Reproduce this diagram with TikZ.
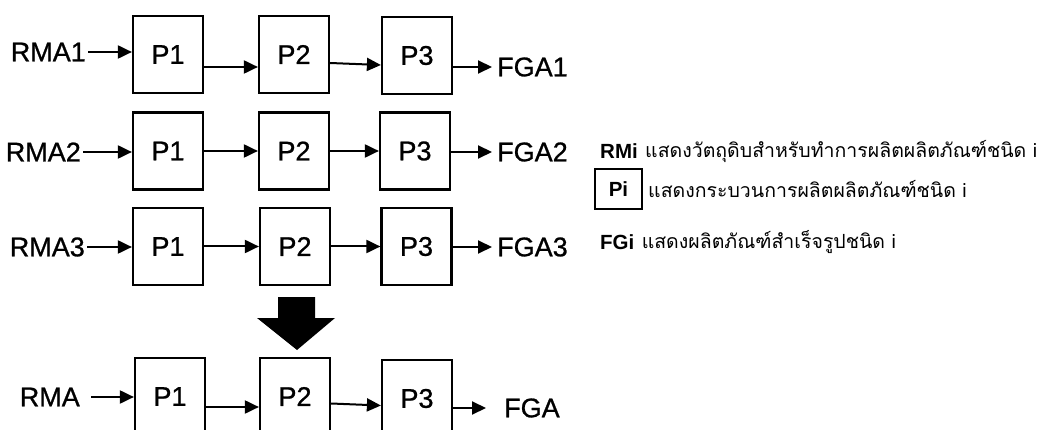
\documentclass[tikz,border=0pt]{standalone}
\usepackage{fontspec}
\setmainfont{Liberation Sans}
\newfontfamily\lblfont{Liberation Sans}[FakeBold=0.9]
\newfontfamily\thaifont[Script=Thai]{Loma}
\usetikzlibrary{arrows.meta}
\begin{document}
\begin{tikzpicture}[x=1pt,y=-1pt,
  pbox/.style={draw,line width=2.2pt,minimum width=70pt,minimum height=77pt,inner sep=0pt,font=\lblfont\fontsize{27}{27}\selectfont},
  lbl/.style={inner sep=0pt,font=\lblfont\fontsize{27}{27}\selectfont},
  arr/.style={line width=2pt,-{Triangle[length=14pt,width=13pt]}},
  leg/.style={inner sep=0pt,anchor=west,font=\bfseries\fontsize{20.5}{20.5}\selectfont},
  thai/.style={inner sep=0pt,anchor=west,font=\thaifont\fontsize{19.5}{19.5}\selectfont}]
\useasboundingbox (0,0) rectangle (1046,430);
% Row 1
\node[pbox] (a1) at (168,54.5) {P1};
\node[pbox] (a2) at (294,54.5) {P2};
\node[pbox] (a3) at (417,55.5) {P3};
\node[lbl,anchor=east] (rma1) at (86,52) {RMA1};
\node[lbl,anchor=west] (fga1) at (497,67) {FGA1};
\draw[arr] ([xshift=2pt]rma1.east) -- (rma1.east -| a1.west);
\draw[arr] ([yshift=-12.5pt]a1.east) -- ([yshift=-12.5pt]a2.west);
\draw[arr] ([yshift=-8.5pt]a2.east) -- ([yshift=-9.5pt]a3.west);
\draw[arr] (a3.east |- fga1.west) -- ([xshift=-5pt]fga1.west);
% Row 2
\node[pbox] (b1) at (168,151) {P1};
\node[pbox] (b2) at (294,151) {P2};
\node[pbox] (b3) at (415,151) {P3};
\node[lbl,anchor=east] (rma2) at (81,152) {RMA2};
\node[lbl,anchor=west] (fga2) at (497,152) {FGA2};
\draw[arr] ([xshift=2pt]rma2.east) -- (rma2.east -| b1.west);
\draw[arr] (b1.east) -- (b2.west);
\draw[arr] (b2.east) -- (b3.west);
\draw[arr] (b3.east |- fga2.west) -- ([xshift=-5pt]fga2.west);
% Row 3
\node[pbox] (c1) at (168,246.5) {P1};
\node[pbox] (c2) at (295,246.5) {P2};
\node[pbox] (c3) at (416.5,246.5) {P3};
\node[lbl,anchor=east] (rma3) at (85,247) {RMA3};
\node[lbl,anchor=west] (fga3) at (497,247) {FGA3};
\draw[arr] ([xshift=2pt]rma3.east) -- (rma3.east -| c1.west);
\draw[arr] (c1.east) -- (c2.west);
\draw[arr] (c2.east) -- (c3.west);
\draw[arr] (c3.east |- fga3.west) -- ([xshift=-5pt]fga3.west);
% Big arrow
\fill (278,297) -- (315,297) -- (315,318) -- (335,318) -- (297,350) -- (257,318) -- (278,318) -- cycle;
% Row 4
\node[pbox] (d1) at (170,396.5) {P1};
\node[pbox] (d2) at (295,396.5) {P2};
\node[pbox] (d3) at (417,398.5) {P3};
\node[lbl,anchor=east] (rma) at (80,397) {RMA};
\node[lbl,anchor=west] (fga) at (504,408) {FGA};
\draw[arr] ([xshift=11pt]rma.east) -- (rma.east -| d1.west);
\draw[arr] ([yshift=-10.5pt]d1.east) -- ([yshift=-10.5pt]d2.west);
\draw[arr] ([yshift=-7pt]d2.east) -- ([yshift=-7pt]d3.west);
\draw[arr] (d3.east |- fga.west) -- ([xshift=-18pt]fga.west);
% Legend
\node[leg] (rmi) at (600,151) {RMi};
\node[thai] (t1) at ([xshift=7pt]rmi.east) {แสดงวัตถุดิบสำหรับทำการผลิตผลิตภัณฑ์ชนิด i};
\node[draw,line width=2pt,minimum width=47pt,minimum height=40pt,inner sep=0pt,font=\bfseries\fontsize{20.5}{20.5}\selectfont] (pi) at (618.5,189) {Pi};
\node[thai] (t2) at ([xshift=5pt]pi.east) {แสดงกระบวนการผลิตผลิตภัณฑ์ชนิด i};
\node[leg] (fgi) at (600,242) {FGi};
\node[thai] (t3) at ([xshift=7pt]fgi.east) {แสดงผลิตภัณฑ์สำเร็จรูปชนิด i};
\end{tikzpicture}
\end{document}
